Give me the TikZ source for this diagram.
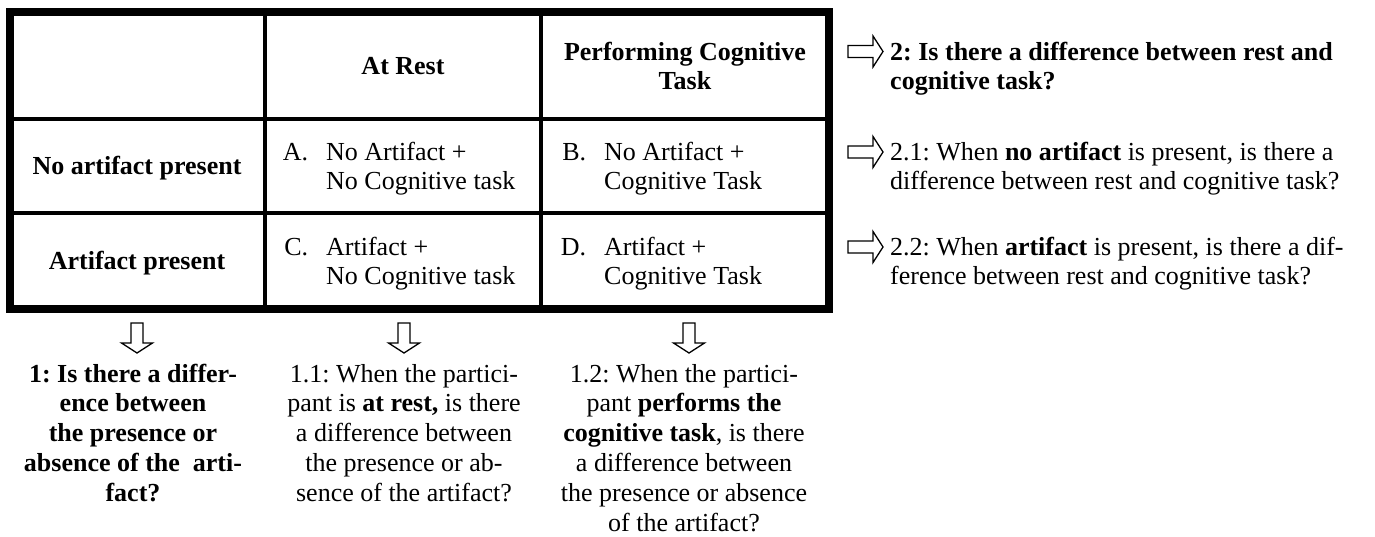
\documentclass[tikz,border=0pt]{standalone}
\usepackage{fontspec}
\setmainfont{Liberation Serif}
\frenchspacing
\tikzset{
  txt/.style={font=\fontsize{26}{29.8}\selectfont, inner sep=0pt},
  hd/.style={txt, font=\fontsize{26}{29.8}\selectfont\bfseries, align=center},
  cell/.style={txt, align=left, anchor=west},
  rt/.style={txt, align=left, anchor=west},
  bt/.style={txt, align=center, anchor=north},
  thickrule/.style={line width=8pt},
  thinrule/.style={line width=3.5pt},
  rarr/.pic={\draw[line width=1.3pt, line join=miter]
      (0,-6) -- (25,-6) -- (25,-15.5) -- (35,0) -- (25,15.5) -- (25,6) -- (0,6) -- cycle;},
  darr/.pic={\draw[line width=1.3pt, line join=miter]
      (-6,0) -- (-6,20) -- (-15.5,20) -- (0,30) -- (15.5,20) -- (6,20) -- (6,0) -- cycle;}
}
\begin{document}
\begin{tikzpicture}[x=1pt,y=-1pt]
\useasboundingbox (0,0) rectangle (1375,537);
% table grid
\draw[thinrule] (265,12) -- (265,309) (541,12) -- (541,309)
                (10,119) -- (829,119) (10,213) -- (829,213);
\draw[thickrule] (10,12) rectangle (829,309);
% header
\node[hd] (hRest) at (403,69) {\strut At Rest};
\node[hd] (hTask) at (685,69) {\strut Performing Cognitive\\\strut Task};
\node[hd] (rNo) at (137,169) {\strut No artifact present};
\node[hd] (rArt) at (137,264) {\strut Artifact present};
% cells
\node[cell] (cA) at (326,169) {\strut\llap{A.\hspace{18pt}}No Artifact +\\\strut No Cognitive task};
\node[cell] (cB) at (604,169) {\strut\llap{B.\hspace{18pt}}No Artifact +\\\strut Cognitive Task};
\node[cell] (cC) at (326,264) {\strut\llap{C.\hspace{18pt}}Artifact +\\\strut No Cognitive task};
\node[cell] (cD) at (604,264) {\strut\llap{D.\hspace{18pt}}Artifact +\\\strut Cognitive Task};
% right questions
\pic (ra1) at (848,51.5) {rarr};
\pic (ra2) at (848,152) {rarr};
\pic (ra3) at (848,247) {rarr};
\node[rt, font=\fontsize{26}{29.8}\selectfont\bfseries] (q2) at (890,69)
  {\strut 2: Is there a difference between rest and\\\strut cognitive task?};
\node[rt] (q21) at (890,169)
  {\strut 2.1: When \textbf{no artifact} is present, is there a\\\strut difference between rest and cognitive task?};
\node[rt] (q22) at (890,264)
  {\strut 2.2: When \textbf{artifact} is present, is there a dif-\\\strut ference between rest and cognitive task?};
% bottom questions
\pic (da1) at (137,323) {darr};
\pic (da2) at (404,323) {darr};
\pic (da3) at (689,323) {darr};
\node[bt, font=\fontsize{26}{29.8}\selectfont\bfseries] (q1) at (133,361)
  {\strut 1: Is there a differ-\\\strut ence between\\\strut the presence or\\\strut absence of the \ arti-\\\strut fact?};
\node[bt] (q11) at (404,361)
  {\strut 1.1: When the partici-\\\strut pant is \textbf{at rest,} is there\\\strut a difference between\\\strut the presence or ab-\\\strut sence of the artifact?};
\node[bt] (q12) at (684,361)
  {\strut 1.2: When the partici-\\\strut pant \textbf{performs the}\\\strut \textbf{cognitive task}, is there\\\strut a difference between\\\strut the presence or absence\\\strut of the artifact?};
\end{tikzpicture}
\end{document}
